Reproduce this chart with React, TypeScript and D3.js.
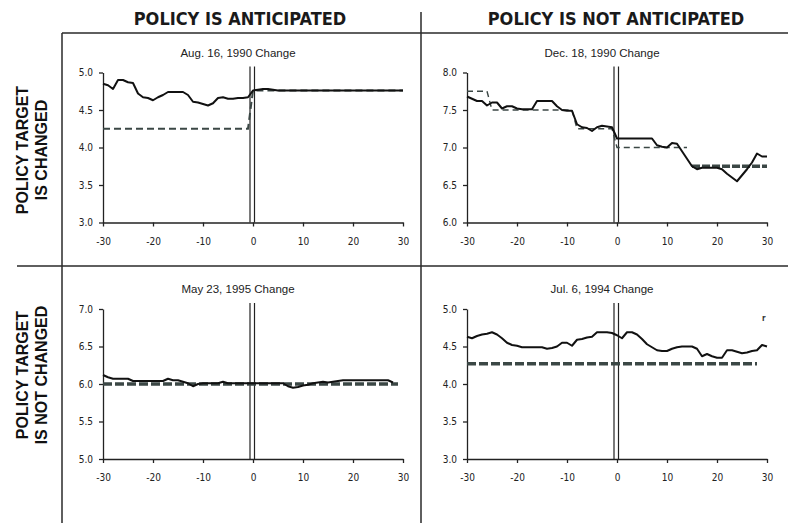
import React, { useEffect, useRef } from 'react';
import * as d3 from 'd3';

// event window: trading days around the policy change
const days = d3.range(-30, 31);
const xTicks = [-30, -20, -10, 0, 10, 20, 30];
const eventDays = [-0.6, 0.3];

const colHeaders = ['POLICY IS ANTICIPATED', 'POLICY IS NOT ANTICIPATED'];
const rowHeaders = [
    ['POLICY TARGET', 'IS CHANGED'],
    ['POLICY TARGET', 'IS NOT CHANGED'],
];

// Aug. 16, 1990
const aug90Rate = [
    4.85, 4.83, 4.78, 4.90, 4.90, 4.87, 4.86, 4.72, 4.67, 4.66,
    4.63, 4.67, 4.70, 4.74, 4.74, 4.74, 4.74, 4.70, 4.61, 4.60,
    4.58, 4.56, 4.59, 4.66, 4.67, 4.65, 4.65, 4.66, 4.66, 4.67,
    4.76, 4.77, 4.78, 4.78, 4.77, 4.76, 4.76, 4.76, 4.76, 4.76,
    4.76, 4.76, 4.76, 4.76, 4.76, 4.76, 4.76, 4.76, 4.76, 4.76,
    4.76, 4.76, 4.76, 4.76, 4.76, 4.76, 4.76, 4.76, 4.76, 4.76, 4.76,
];
const aug90Target = [
    4.25, 4.25, 4.25, 4.25, 4.25, 4.25, 4.25, 4.25, 4.25, 4.25,
    4.25, 4.25, 4.25, 4.25, 4.25, 4.25, 4.25, 4.25, 4.25, 4.25,
    4.25, 4.25, 4.25, 4.25, 4.25, 4.25, 4.25, 4.25, 4.25, 4.25,
    4.76, 4.76, 4.76, 4.76, 4.76, 4.76, 4.76, 4.76, 4.76, 4.76,
    4.76, 4.76, 4.76, 4.76, 4.76, 4.76, 4.76, 4.76, 4.76, 4.76,
    4.76, 4.76, 4.76, 4.76, 4.76, 4.76, 4.76, 4.76, 4.76, 4.76, 4.76,
];

// Dec. 18, 1990
const dec90Rate = [
    7.68, 7.65, 7.62, 7.62, 7.56, 7.60, 7.60, 7.52, 7.55, 7.55,
    7.52, 7.51, 7.51, 7.51, 7.62, 7.62, 7.62, 7.62, 7.55, 7.50,
    7.49, 7.49, 7.31, 7.27, 7.26, 7.22, 7.27, 7.29, 7.28, 7.27,
    7.12, 7.12, 7.12, 7.12, 7.12, 7.12, 7.12, 7.12, 7.03, 7.01,
    7.00, 7.06, 7.05, 6.95, 6.85, 6.75, 6.71, 6.73, 6.73, 6.73,
    6.73, 6.71, 6.65, 6.60, 6.55, 6.63, 6.71, 6.80, 6.92, 6.88, 6.88,
];
const dec90Target = [
    7.75, 7.75, 7.75, 7.75, 7.75, 7.50, 7.50, 7.50, 7.50, 7.50,
    7.50, 7.50, 7.50, 7.50, 7.50, 7.50, 7.50, 7.50, 7.50, 7.50,
    7.50, 7.50, 7.25, 7.25, 7.25, 7.25, 7.25, 7.25, 7.25, 7.25,
    7.00, 7.00, 7.00, 7.00, 7.00, 7.00, 7.00, 7.00, 7.00, 7.00,
    7.00, 7.00, 7.00, 7.00, 7.00, null, null, null, null, null,
    null, null, null, null, null, null, null, null, null, null, null,
];
const dec90TargetLate = [
    null, null, null, null, null, null, null, null, null, null,
    null, null, null, null, null, null, null, null, null, null,
    null, null, null, null, null, null, null, null, null, null,
    null, null, null, null, null, null, null, null, null, null,
    null, null, null, null, null, 6.75, 6.75, 6.75, 6.75, 6.75,
    6.75, 6.75, 6.75, 6.75, 6.75, 6.75, 6.75, 6.75, 6.75, 6.75, 6.75,
];

// May 23, 1995
const may95Rate = [
    6.12, 6.09, 6.07, 6.07, 6.07, 6.07, 6.04, 6.04, 6.04, 6.04,
    6.04, 6.04, 6.04, 6.07, 6.05, 6.05, 6.03, 6.01, 5.97, 6.00,
    6.01, 6.01, 6.01, 6.01, 6.03, 6.01, 6.01, 6.01, 6.01, 6.01,
    6.01, 6.01, 6.01, 6.01, 6.01, 6.01, 6.01, 5.97, 5.95, 5.96,
    5.98, 5.99, 6.01, 6.02, 6.03, 6.02, 6.03, 6.04, 6.05, 6.05,
    6.05, 6.05, 6.05, 6.05, 6.05, 6.05, 6.05, 6.05, 6.02, null, null,
];
const may95Target = [
    6.00, 6.00, 6.00, 6.00, 6.00, 6.00, 6.00, 6.00, 6.00, 6.00,
    6.00, 6.00, 6.00, 6.00, 6.00, 6.00, 6.00, 6.00, 6.00, 6.00,
    6.00, 6.00, 6.00, 6.00, 6.00, 6.00, 6.00, 6.00, 6.00, 6.00,
    6.00, 6.00, 6.00, 6.00, 6.00, 6.00, 6.00, 6.00, 6.00, 6.00,
    6.00, 6.00, 6.00, 6.00, 6.00, 6.00, 6.00, 6.00, 6.00, 6.00,
    6.00, 6.00, 6.00, 6.00, 6.00, 6.00, 6.00, 6.00, 6.00, 6.00, null,
];

// Jul. 6, 1994
const jul94Rate = [
    4.63, 4.61, 4.64, 4.66, 4.67, 4.69, 4.66, 4.61, 4.55, 4.52,
    4.51, 4.49, 4.49, 4.49, 4.49, 4.49, 4.47, 4.48, 4.50, 4.55,
    4.55, 4.51, 4.59, 4.60, 4.62, 4.63, 4.69, 4.69, 4.69, 4.68,
    4.65, 4.61, 4.69, 4.69, 4.66, 4.60, 4.53, 4.49, 4.45, 4.44,
    4.44, 4.47, 4.49, 4.50, 4.50, 4.50, 4.47, 4.37, 4.40, 4.37,
    4.35, 4.35, 4.45, 4.45, 4.43, 4.41, 4.42, 4.44, 4.45, 4.52, 4.50,
];
const jul94Target = [
    4.27, 4.27, 4.27, 4.27, 4.27, 4.27, 4.27, 4.27, 4.27, 4.27,
    4.27, 4.27, 4.27, 4.27, 4.27, 4.27, 4.27, 4.27, 4.27, 4.27,
    4.27, 4.27, 4.27, 4.27, 4.27, 4.27, 4.27, 4.27, 4.27, 4.27,
    4.27, 4.27, 4.27, 4.27, 4.27, 4.27, 4.27, 4.27, 4.27, 4.27,
    4.27, 4.27, 4.27, 4.27, 4.27, 4.27, 4.27, 4.27, 4.27, 4.27,
    4.27, 4.27, 4.27, 4.27, 4.27, 4.27, 4.27, 4.27, 4.27, null, null,
];

const panels = [
    {
        title: 'Aug. 16, 1990 Change', col: 0, row: 0,
        yTicks: [3.0, 3.5, 4.0, 4.5, 5.0],
        rate: aug90Rate,
        targets: [{ values: aug90Target, width: 2, dash: '7,4' }],
    },
    {
        title: 'Dec. 18, 1990 Change', col: 1, row: 0,
        yTicks: [6.0, 6.5, 7.0, 7.5, 8.0],
        rate: dec90Rate,
        targets: [
            { values: dec90Target, width: 1.4, dash: '6,4' },
            { values: dec90TargetLate, width: 3.5, dash: '8,2' },
        ],
    },
    {
        title: 'May 23, 1995 Change', col: 0, row: 1,
        yTicks: [5.0, 5.5, 6.0, 6.5, 7.0],
        rate: may95Rate,
        targets: [{ values: may95Target, width: 3.5, dash: '9,3' }],
    },
    {
        title: 'Jul. 6, 1994 Change', col: 1, row: 1,
        yTicks: [3.0, 3.5, 4.0, 4.5, 5.0],
        rate: jul94Rate,
        targets: [{ values: jul94Target, width: 3.5, dash: '9,3' }],
    },
];

const App = () => {
    const ref = useRef<SVGSVGElement>(null);

    useEffect(() => {
        const svg = d3.select(ref.current);
        svg.selectAll('*').remove();

        const width = 788, height = 523;
        const frameLeft = 62, frameTop = 33, midX = 421, midY = 266;
        const plotLeft = [103, 467], plotTop = [72.5, 309];
        const plotW = 300, plotH = 150;
        const lineColor = '#2a2a2a';
        const tickFont = "'DejaVu Sans Condensed', 'DejaVu Sans', sans-serif";

        svg.append('rect').attr('width', width).attr('height', height).attr('fill', '#fff');

        // grid frame
        const frame = svg.append('g').attr('stroke', lineColor).attr('stroke-width', 1.5);
        frame.append('line').attr('x1', frameLeft).attr('x2', width).attr('y1', frameTop).attr('y2', frameTop);
        frame.append('line').attr('x1', 17).attr('x2', width).attr('y1', midY).attr('y2', midY);
        frame.append('line').attr('x1', frameLeft).attr('x2', frameLeft).attr('y1', frameTop).attr('y2', height);
        frame.append('line').attr('x1', midX).attr('x2', midX).attr('y1', 12).attr('y2', height);

        // column headers
        const colCenters = [240, 616];
        colHeaders.forEach((h, i) => {
            svg.append('text')
                .attr('x', colCenters[i]).attr('y', 25)
                .attr('text-anchor', 'middle')
                .attr('font-family', "'Liberation Sans Narrow', 'DejaVu Sans Condensed', sans-serif")
                .attr('font-weight', 'bold')
                .attr('font-size', 18)
                .attr('fill', '#1a1a1a')
                .text(h);
        });

        // row headers (rotated)
        const rowCenters = [150, 375];
        rowHeaders.forEach((lines, i) => {
            const g = svg.append('g').attr('transform', `translate(0,${rowCenters[i]}) rotate(-90)`);
            lines.forEach((t, j) => {
                g.append('text')
                    .attr('x', 0).attr('y', 28 + j * 19)
                    .attr('text-anchor', 'middle')
                    .attr('font-family', "'Liberation Sans', Arial, sans-serif")
                    .attr('font-weight', 'bold')
                    .attr('font-size', 16)
                    .attr('fill', '#111')
                    .text(t);
            });
        });

        panels.forEach(p => {
            const left = plotLeft[p.col];
            const top = plotTop[p.row];
            const x = d3.scaleLinear().domain([-30, 30]).range([left, left + plotW]);
            const y = d3.scaleLinear()
                .domain([p.yTicks[0], p.yTicks[p.yTicks.length - 1]])
                .range([top + plotH, top]);

            const g = svg.append('g');

            // title
            g.append('text')
                .attr('x', left + plotW / 2 - 15).attr('y', top - 16)
                .attr('text-anchor', 'middle')
                .attr('font-family', "'Liberation Sans', Arial, sans-serif")
                .attr('font-size', 11.5)
                .attr('fill', '#222')
                .text(p.title);

            // axes
            const yAxis = g.append('g')
                .attr('transform', `translate(${left},0)`)
                .call(d3.axisLeft(y).tickValues(p.yTicks).tickFormat(d3.format('.1f')).tickSize(4).tickSizeOuter(0).tickPadding(6));
            const xAxis = g.append('g')
                .attr('transform', `translate(0,${top + plotH})`)
                .call(d3.axisBottom(x).tickValues(xTicks).tickFormat(d => String(d)).tickSize(4).tickSizeOuter(0).tickPadding(11));
            [yAxis, xAxis].forEach(a => {
                a.selectAll('path, line').attr('stroke', '#222').attr('stroke-width', 1.3);
                a.selectAll('text')
                    .attr('font-family', tickFont)
                    .attr('font-size', 10)
                    .attr('fill', '#222');
            });

            // event day markers
            eventDays.forEach(d => {
                g.append('line')
                    .attr('x1', x(d)).attr('x2', x(d))
                    .attr('y1', top - 6).attr('y2', top + plotH)
                    .attr('stroke', '#222').attr('stroke-width', 1.2);
            });

            // target rate (dashed)
            p.targets.forEach(t => {
                const line = d3.line<number>()
                    .defined((_, i) => t.values[i] != null)
                    .x(d => x(d))
                    .y((_, i) => y(t.values[i] as number));
                g.append('path')
                    .datum(days)
                    .attr('fill', 'none')
                    .attr('stroke', '#3b4745')
                    .attr('stroke-width', t.width)
                    .attr('stroke-dasharray', t.dash)
                    .attr('d', line);
            });

            // market rate (solid)
            const rateLine = d3.line<number>()
                .defined((_, i) => p.rate[i] != null)
                .x(d => x(d))
                .y((_, i) => y(p.rate[i] as number));
            g.append('path')
                .datum(days)
                .attr('fill', 'none')
                .attr('stroke', '#111')
                .attr('stroke-width', 2)
                .attr('stroke-linejoin', 'round')
                .attr('d', rateLine);

            if (p.col === 1 && p.row === 1) {
                g.append('text')
                    .attr('x', x(29)).attr('y', y(4.84))
                    .attr('font-family', tickFont)
                    .attr('font-size', 8)
                    .attr('font-weight', 'bold')
                    .attr('fill', '#333')
                    .text('r');
            }
        });
    }, []);

    return (
        <svg
            ref={ref}
            width={788}
            height={523}
            style={{ position: 'absolute', left: 0, top: 0 }}
        />
    );
};

export default App;
